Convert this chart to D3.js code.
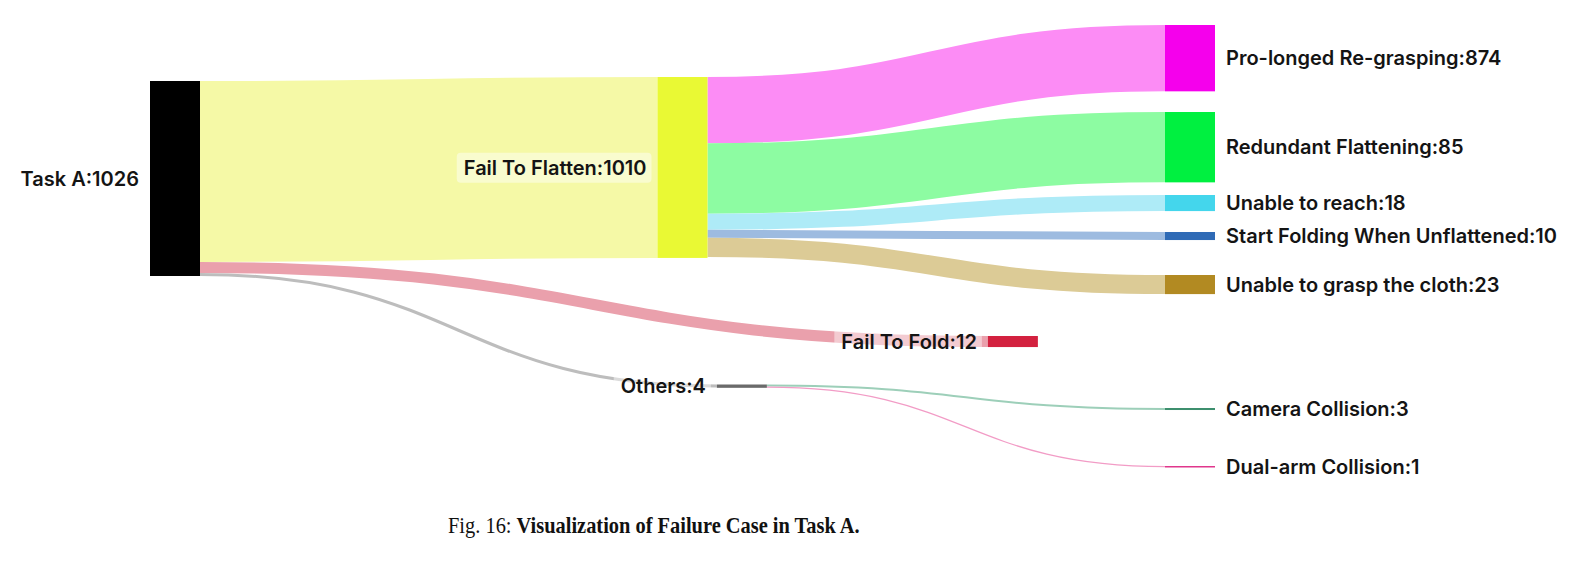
<!DOCTYPE html>
<html>
<head>
<meta charset="utf-8">
<script src="https://cdn.jsdelivr.net/npm/d3@7"></script>
<style>
  html, body { margin: 0; padding: 0; background: #fff; }
  svg { display: block; }
  .label { font-family: Inter, "Noto Sans", sans-serif; font-weight: 600; font-size: 20px; fill: #141414; }
  .caption { font-family: "Liberation Serif", "Times New Roman", serif; font-size: 24px; fill: #111; }
</style>
</head>
<body>
<svg id="chart" width="1578" height="569"></svg>
<script>
// nodes and the counts printed in their labels
const nodeNames = ["Task A", "Fail To Flatten", "Fail To Fold", "Others", "Pro-longed Re-grasping", "Redundant Flattening", "Unable to reach", "Start Folding When Unflattened", "Unable to grasp the cloth", "Camera Collision", "Dual-arm Collision"];
const nodeCounts = [1026, 1010, 12, 4, 874, 85, 18, 10, 23, 3, 1];
const nodeColors = ["#000000", "#e9f934", "#d3213f", "#6a6a6a", "#f500ec", "#00f040", "#44d6ec", "#2f6bb6", "#b28a22", "#3d8f6e", "#e0378c"];

// flows (source index -> target index)
const linkSources = [0, 0, 0, 1, 1, 1, 1, 1, 3, 3];
const linkTargets = [1, 2, 3, 4, 5, 6, 7, 8, 9, 10];
// band weight of each flow as drawn in the figure (bands are not drawn in proportion to the counts)
const linkWeights = [180, 11, 3, 66, 70, 16, 8, 19, 2, 1.3];
const linkColors = ["#f5f9a6", "#eaa0ac", "#bdbdbd", "#fc8cf5", "#8dfca2", "#aeebf7", "#9dbbe0", "#dccb96", "#9dcfb9", "#f29cc6"];

// layout of the nodes (the figure places them by hand)
const nodeColumn = [0, 1, 1.651, 1.117, 2, 2, 2, 2, 2, 2, 2];
const nodeTop = [81, 77, 336, 384.5, 25, 112, 195, 232, 275, 408, 466];

const nodeWidth = 50;
const svg = d3.select("#chart");

var x = d3.scaleLinear().domain([0, 2]).range([150, 1165]);
var w = d3.scaleLinear().domain([0, 194]).range([0, 195]);

const nodes = nodeNames.map((name, i) => ({
  index: i,
  name,
  count: nodeCounts[i],
  color: nodeColors[i],
  col: nodeColumn[i],
  sourceLinks: [],
  targetLinks: [],
}));

const links = linkSources.map((s, i) => ({
  index: i,
  source: nodes[s],
  target: nodes[linkTargets[i]],
  weight: linkWeights[i],
  color: linkColors[i],
}));

links.forEach(l => {
  l.source.sourceLinks.push(l);
  l.target.targetLinks.push(l);
});

nodes.forEach(n => {
  n.value = Math.max(d3.sum(n.sourceLinks, l => l.weight), d3.sum(n.targetLinks, l => l.weight));
  n.x0 = x(n.col);
  n.x1 = n.x0 + nodeWidth;
  n.y0 = nodeTop[n.index];
  n.y1 = n.y0 + w(n.value);
});

// stack the bands on each node
nodes.forEach(n => {
  let y = n.y0;
  n.sourceLinks.slice().sort((a, b) => a.target.y0 - b.target.y0).forEach(l => {
    l.width = w(l.weight);
    l.y0 = y + l.width / 2;
    y += l.width;
  });
  y = n.y0;
  n.targetLinks.slice().sort((a, b) => a.source.y0 - b.source.y0).forEach(l => {
    l.y1 = y + w(l.weight) / 2;
    y += w(l.weight);
  });
});

const linkPath = d3.linkHorizontal()
  .source(d => [d.source.x1, d.y0])
  .target(d => [d.target.x0, d.y1]);

svg.append("g")
  .attr("class", "links")
  .attr("fill", "none")
  .selectAll("path")
  .data(links)
  .enter()
  .append("path")
  .attr("d", linkPath)
  .attr("stroke", d => d.color)
  .attr("stroke-width", d => Math.max(1, d.width));

svg.append("g")
  .attr("class", "nodes")
  .selectAll("rect")
  .data(nodes)
  .enter()
  .append("rect")
  .attr("x", d => d.x0)
  .attr("y", d => d.y0)
  .attr("width", d => d.x1 - d.x0)
  .attr("height", d => Math.max(1.5, d.y1 - d.y0))
  .attr("fill", d => d.color);

// labels: last column on the right, everything else on the left
const lastCol = d3.max(nodeColumn);
const labels = svg.append("g").attr("class", "labels");

nodes.forEach(n => {
  const onRight = n.col === lastCol;
  const g = labels.append("g");
  const bg = g.append("rect");
  const t = g.append("text")
    .attr("class", "label")
    .attr("x", onRight ? n.x1 + 11 : n.x0 - 11)
    .attr("y", (n.y0 + n.y1) / 2)
    .attr("dy", "0.36em")
    .attr("text-anchor", onRight ? "start" : "end")
    .text(`${n.name}:${n.count}`);
  const box = t.node().getBBox();
  bg.attr("x", box.x - 7)
    .attr("y", box.y - 3)
    .attr("width", box.width + 12)
    .attr("height", box.height + 6)
    .attr("rx", 4)
    .attr("fill", "#fff")
    .attr("fill-opacity", 0.45);
});

// caption (paper style: condensed Times), squeezed horizontally to the reference width
const captionWidth = 412;
const caption = svg.append("text").attr("class", "caption");
caption.append("tspan").text("Fig. 16: ");
caption.append("tspan").attr("font-weight", "bold").text("Visualization of Failure Case in Task A.");
const sx = captionWidth / caption.node().getComputedTextLength();
caption.attr("transform", `translate(448,533) scale(${sx},1)`);
</script>
</body>
</html>
